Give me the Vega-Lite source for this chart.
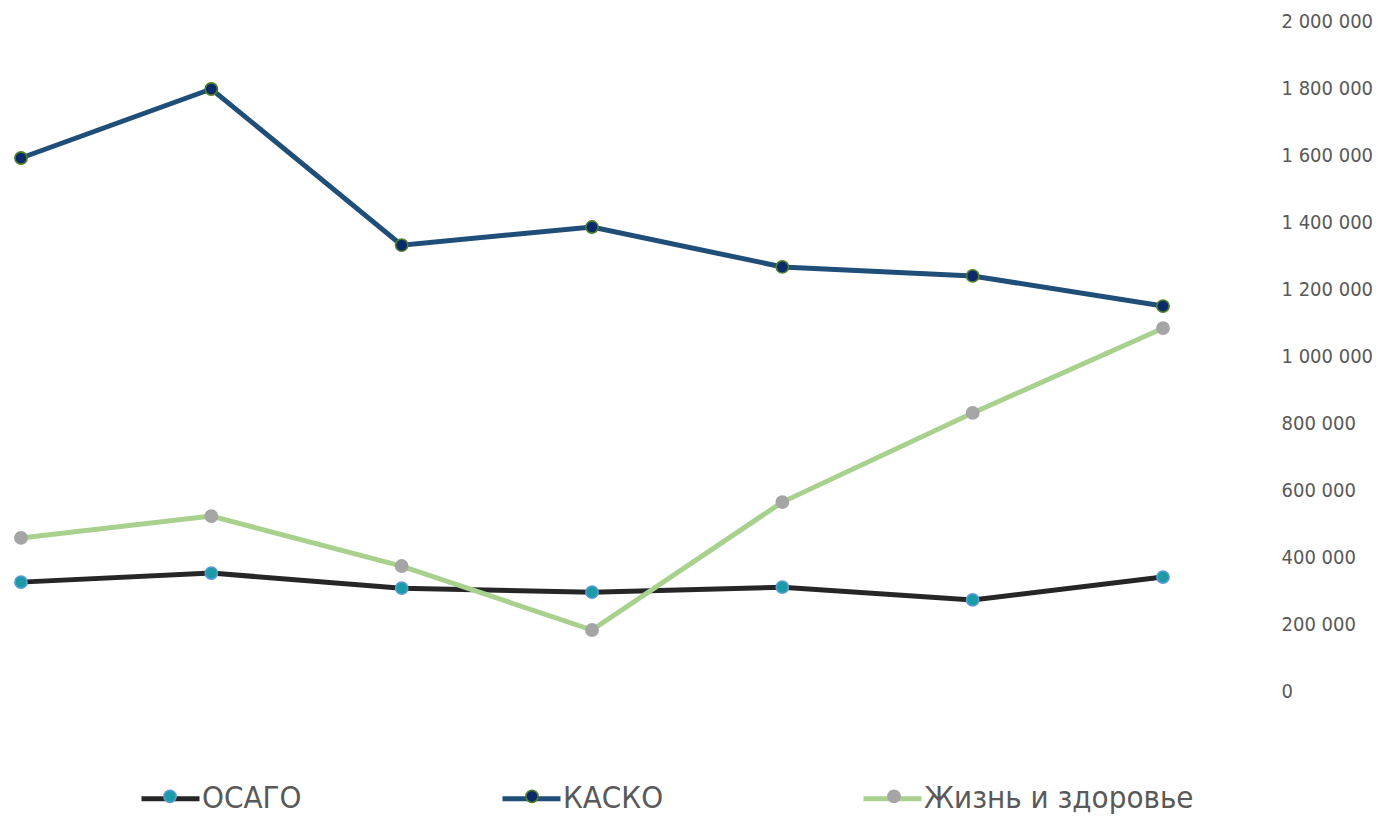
{
  "$schema": "https://vega.github.io/schema/vega-lite/v6.json",
  "width": 1142,
  "height": 670,
  "autosize": "none",
  "padding": {"left": 21, "top": 21, "right": 228, "bottom": 125},
  "background": "white",
  "config": {
    "view": {"stroke": null},
    "locale": {"number": {"decimal": ",", "thousands": " ", "grouping": [3], "currency": ["", ""]}},
    "font": "DejaVu Sans Condensed"
  },
  "data": {
    "values": [
      {"i": 0, "s": "ОСАГО", "v": 325000},
      {"i": 1, "s": "ОСАГО", "v": 352000},
      {"i": 2, "s": "ОСАГО", "v": 307000},
      {"i": 3, "s": "ОСАГО", "v": 295000},
      {"i": 4, "s": "ОСАГО", "v": 310000},
      {"i": 5, "s": "ОСАГО", "v": 272000},
      {"i": 6, "s": "ОСАГО", "v": 340000},
      {"i": 0, "s": "КАСКО", "v": 1591000},
      {"i": 1, "s": "КАСКО", "v": 1797000},
      {"i": 2, "s": "КАСКО", "v": 1331000},
      {"i": 3, "s": "КАСКО", "v": 1385000},
      {"i": 4, "s": "КАСКО", "v": 1266000},
      {"i": 5, "s": "КАСКО", "v": 1239000},
      {"i": 6, "s": "КАСКО", "v": 1149000},
      {"i": 0, "s": "Жизнь и здоровье", "v": 457000},
      {"i": 1, "s": "Жизнь и здоровье", "v": 522000},
      {"i": 2, "s": "Жизнь и здоровье", "v": 373000},
      {"i": 3, "s": "Жизнь и здоровье", "v": 182000},
      {"i": 4, "s": "Жизнь и здоровье", "v": 564000},
      {"i": 5, "s": "Жизнь и здоровье", "v": 830000},
      {"i": 6, "s": "Жизнь и здоровье", "v": 1083000}
    ]
  },
  "encoding": {
    "x": {"field": "i", "type": "quantitative", "scale": {"domain": [0, 6], "nice": false}, "axis": null},
    "y": {
      "field": "v", "type": "quantitative",
      "scale": {"domain": [0, 2000000], "nice": false},
      "axis": {
        "orient": "right", "values": [0, 200000, 400000, 600000, 800000, 1000000, 1200000, 1400000, 1600000, 1800000, 2000000],
        "format": ",d", "domain": false, "ticks": false, "grid": false, "title": null,
        "labelAlign": "left", "labelPadding": 118, "labelFontSize": 20, "labelColor": "#595959",
        "labelFont": "DejaVu Sans Condensed"
      }
    }
  },
  "layer": [
    {
      "mark": {"type": "line", "strokeWidth": 5},
      "encoding": {
        "color": {
          "field": "s", "type": "nominal",
          "scale": {"domain": ["ОСАГО", "КАСКО", "Жизнь и здоровье"], "range": ["#262626", "#1f4e79", "#a9d18e"]},
          "legend": {
            "orient": "none", "legendX": 118, "legendY": 746, "direction": "horizontal", "columns": 3,
            "gridAlign": "all", "columnPadding": 20, "title": null,
            "symbolType": "stroke", "symbolSize": 3364, "symbolStrokeWidth": 5,
            "labelFontSize": 31, "labelColor": "#595959", "labelFont": "DejaVu Sans Condensed", "labelOffset": 0,
            "labelLimit": 400
          }
        }
      }
    },
    {
      "mark": {"type": "point", "filled": true, "size": 150, "strokeWidth": 1.6, "opacity": 1},
      "encoding": {
        "fill": {
          "field": "s", "type": "nominal",
          "sort": ["ОСАГО", "КАСКО", "Жизнь и здоровье"],
          "scale": {"range": ["#1a9ba6", "#0b2a6b", "#a5a5a5"]},
          "legend": {
            "orient": "none", "legendX": 142, "legendY": 768, "direction": "horizontal", "columns": 3,
            "gridAlign": "all", "columnPadding": 342, "title": null,
            "symbolType": "circle", "symbolSize": 150, "symbolStrokeWidth": 1.6, "symbolOpacity": 1,
            "values": ["ОСАГО", "КАСКО", "Жизнь и здоровье"],
            "labelExpr": "''", "labelOffset": 0, "labelFontSize": 1,
            "encode": {"symbols": {"update": {"stroke": {"scale": "stroke", "field": "value"}}}}
          }
        },
        "stroke": {
          "field": "s", "type": "nominal",
          "sort": ["ОСАГО", "КАСКО", "Жизнь и здоровье"],
          "scale": {"range": ["#5b9bd5", "#4f7f26", "#a5a5a5"]},
          "legend": null
        }
      }
    }
  ]
}
